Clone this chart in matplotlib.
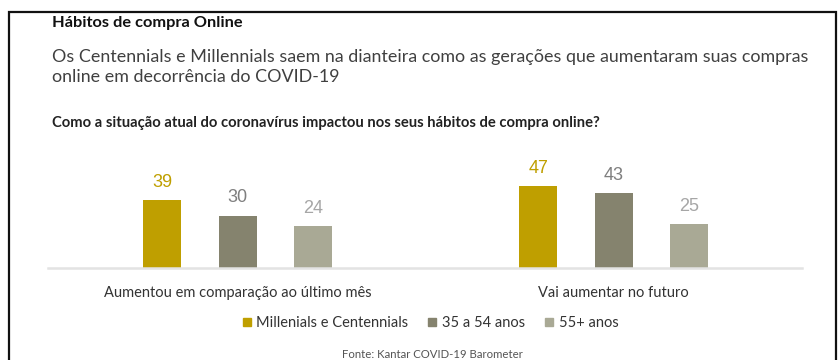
import matplotlib
matplotlib.use('Agg')
import matplotlib.pyplot as plt
from matplotlib.lines import Line2D
from matplotlib.patches import Rectangle

W, H = 838, 360

categories = ['Aumentou em comparação ao último mês', 'Vai aumentar no futuro']
series = ['Millenials e Centennials', '35 a 54 anos', '55+ anos']
values = [
    [39, 47],
    [30, 43],
    [24, 25],
]
bar_colors = ['#BF9F00', '#85836E', '#A9A995']
label_colors = ['#BF9F00', '#7F7F7F', '#A6A6A6']

plt.rcParams['font.family'] = ['Lato', 'DejaVu Sans']

fig = plt.figure(figsize=(W / 100, H / 100), dpi=100)
fig.patch.set_facecolor('white')


def px(x, y):
    return x / W, 1 - y / H


# Frame around the slide
fig.add_artist(Rectangle(px(9, 400), (836 - 9) / W, (400 - 12) / H, transform=fig.transFigure,
                         fill=False, edgecolor='#111111', linewidth=1.6, clip_on=False))

# Header texts
fig.text(*px(52, 23), 'Hábitos de compra Online', fontsize=11.8, fontweight='bold',
         color='#111111', va='center', ha='left')
fig.text(*px(52, 67), 'Os Centennials e Millennials saem na dianteira como as gerações que aumentaram suas compras\n'
                      'online em decorrência do COVID-19',
         fontsize=12.85, color='#404040', va='center', ha='left', linespacing=1.38)
fig.text(*px(52, 123), 'Como a situação atual do coronavírus impactou nos seus hábitos de compra online?',
         fontsize=10.6, fontweight='bold', color='#222222', va='center', ha='left')

# Bars
ax = fig.add_axes([48 / W, (H - 268) / H, (802 - 48) / W, 118 / H])
offset = 0.2
width = 0.101
for i, (name, vals) in enumerate(zip(series, values)):
    xs = [g + (i - 1) * offset for g in range(len(categories))]
    ax.bar(xs, vals, width=width, color=bar_colors[i], label=name)
    for x, v in zip(xs, vals):
        ax.text(x, v + 5.3, str(v), ha='center', va='bottom', fontsize=13,
                color=label_colors[i], family='Liberation Sans')

ax.set_xlim(-0.504, 1.501)
ax.set_ylim(0, 67.7)
for side in ['top', 'right', 'left']:
    ax.spines[side].set_visible(False)
ax.spines['bottom'].set_color('#E3E3E3')
ax.spines['bottom'].set_linewidth(1.8)
ax.set_yticks([])
ax.set_xticks(range(len(categories)))
ax.set_xticklabels(categories, fontsize=10.5, color='#333333')
ax.tick_params(axis='x', length=0, pad=13)

# Legend
handles = [Line2D([], [], marker='s', linestyle='none', markersize=5.5, color=c) for c in bar_colors]
fig.legend(handles, series, loc='center', bbox_to_anchor=px(430, 323), ncol=3, frameon=False,
           fontsize=10.5, handlelength=0.7, handletextpad=0.3, columnspacing=1.3,
           labelcolor='#333333')

fig.text(*px(432, 354), 'Fonte: Kantar COVID-19 Barometer', fontsize=8.2, color='#555555',
         ha='center', va='center')

fig.savefig('out.png', dpi=100)
